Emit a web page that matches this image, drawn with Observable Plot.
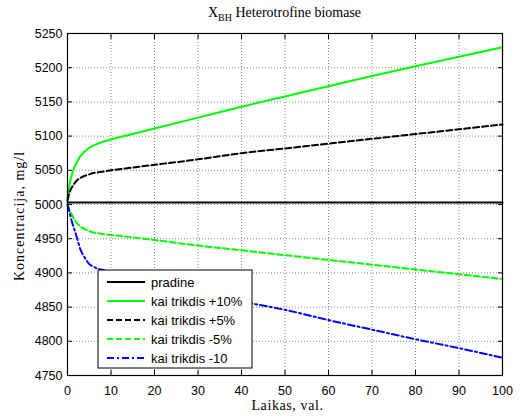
<!DOCTYPE html>
<html><head><meta charset="utf-8">
<script src="https://cdn.jsdelivr.net/npm/d3@7"></script>
<script src="https://cdn.jsdelivr.net/npm/@observablehq/plot@0.6"></script>
<style>body{margin:0;background:#fff}#chart{width:523px;height:419px}</style>
</head><body><div id="chart"></div>
<script>
// ---- data ----
const time = [0,0.5,1,1.5,2,3,4,5,6,7,8,10,15,20,30,40,50,60,70,80,90,100];
const pradineTime = [0,100];
const pradineVals = [5003,5003];
const plus10 = [5008,5030,5044,5053,5060,5071,5078,5083,5086.5,5089,5091.5,5095,5103,5111,5127,5143,5158,5173,5188,5202,5216,5230];
const plus5  = [5006,5018,5025,5030,5034,5039,5042,5044,5046,5047,5048,5050,5054,5058,5066,5075,5082,5089,5096,5103,5110,5117];
const minus5 = [5000,4991,4985,4979,4974,4968,4964,4961,4959,4958,4957,4955.5,4952,4948,4940,4933,4926,4919,4912,4905,4898,4891];
const minus10= [5000,4988,4975,4965,4955,4934,4922,4913,4909,4906,4904.5,4900,4892,4884,4870,4858,4846,4831,4817,4803,4790,4776];
const seriesNames = ["pradine","kai trikdis +10%","kai trikdis +5%","kai trikdis -5%","kai trikdis -10"];
const xTicks = [0,10,20,30,40,50,60,70,80,90,100];
const yTicks = [4750,4800,4850,4900,4950,5000,5050,5100,5150,5200,5250];
const titleMain = "X", titleSub = "BH", titleRest = " Heterotrofine biomase";
const xLabel = "Laikas, val.";
const yLabel = "Koncentracija, mg/l";

// ---- styles ----
const styles = [
  {stroke:"#000000", dash:null},
  {stroke:"#00ff00", dash:null},
  {stroke:"#000000", dash:"6,3"},
  {stroke:"#00ff00", dash:"6,3"},
  {stroke:"#0000ff", dash:"7,3,2,3"}
];

const seriesData = [
  pradineTime.map((t,i)=>({t, v:pradineVals[i]})),
  time.map((t,i)=>({t, v:plus10[i]})),
  time.map((t,i)=>({t, v:plus5[i]})),
  time.map((t,i)=>({t, v:minus5[i]})),
  time.map((t,i)=>({t, v:minus10[i]}))
];

const W = 523, H = 419;
const margin = {left:67, right:21, top:33, bottom:44};
const sans = "'Liberation Sans', Arial, sans-serif";
const serif = "'Liberation Serif', 'Times New Roman', serif";
const fmt = d => String(d);

const lineMarks = seriesData.map((d,i)=>Plot.line(d, {
  x:"t", y:"v", stroke: styles[i].stroke, strokeWidth: 2,
  strokeDasharray: styles[i].dash || undefined, curve:"monotone-x"
}));

const chart = Plot.plot({
  width: W, height: H,
  marginLeft: margin.left, marginRight: margin.right, marginTop: margin.top, marginBottom: margin.bottom,
  style: {fontFamily: sans, fontSize: "12.5px", background: "white", color: "black"},
  x: {domain:[0,100]},
  y: {domain:[4750,5250]},
  marks: [
    Plot.gridX(xTicks, {stroke:"#888", strokeOpacity:1, strokeDasharray:"1,2"}),
    Plot.gridY(yTicks, {stroke:"#888", strokeOpacity:1, strokeDasharray:"1,2"}),
    ...lineMarks,
    Plot.axisX({anchor:"bottom", ticks:xTicks, tickSize:0, tickPadding:11, label:null, fontSize:12.5, tickFormat:fmt}),
    Plot.axisY({anchor:"left", ticks:yTicks, tickSize:0, tickPadding:5, label:null, fontSize:12.5, tickFormat:fmt}),
    Plot.axisX({anchor:"bottom", ticks:xTicks, tickSize:-5, tickFormat:()=>"", label:null}),
    Plot.axisX({anchor:"top", ticks:xTicks, tickSize:-5, tickFormat:()=>"", label:null}),
    Plot.axisY({anchor:"left", ticks:yTicks, tickSize:-5, tickFormat:()=>"", label:null}),
    Plot.axisY({anchor:"right", ticks:yTicks, tickSize:-5, tickFormat:()=>"", label:null}),
    Plot.frame({stroke:"black", strokeWidth:1.2})
  ]
});
document.getElementById("chart").appendChild(chart);

const svg = d3.select(chart);
const cx = margin.left + (W - margin.left - margin.right)/2;

// title
const tt = svg.append("text").attr("x", cx).attr("y", 17).attr("text-anchor","middle")
  .style("font-family", serif).style("font-size","14px").attr("fill","black");
tt.append("tspan").text(titleMain);
tt.append("tspan").attr("dy", 4).style("font-size","10px").text(titleSub);
tt.append("tspan").attr("dy", -4).text(titleRest);

// axis labels
svg.append("text").attr("x", cx + 3).attr("y", 410).attr("text-anchor","middle")
  .style("font-family", serif).style("font-size","14px").style("letter-spacing","0.6px")
  .attr("fill","black").text(xLabel);
svg.append("text").attr("transform", `translate(24,216) rotate(-90)`).attr("text-anchor","middle")
  .style("font-family", serif).style("font-size","14px").style("letter-spacing","1px")
  .attr("fill","black").text(yLabel);

// legend
const lg = svg.append("g").attr("transform","translate(98,270)").attr("text-anchor","start");
lg.append("rect").attr("width",154).attr("height",98).attr("fill","white").attr("stroke","black").attr("stroke-width",1);
seriesNames.forEach((name,i)=>{
  const y = 12 + i*19;
  lg.append("line").attr("x1",9).attr("x2",47).attr("y1",y).attr("y2",y)
    .attr("stroke",styles[i].stroke).attr("stroke-width",2)
    .attr("stroke-dasharray",styles[i].dash);
  lg.append("text").attr("x",53).attr("y",y).attr("dy","0.35em").attr("text-anchor","start")
    .style("font-family",sans).style("font-size","13px").attr("fill","black").text(name);
});
</script>
</body></html>
